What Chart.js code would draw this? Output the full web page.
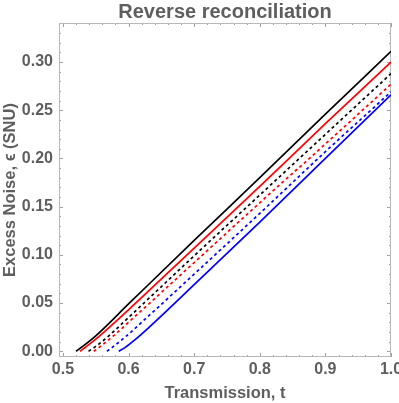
<!DOCTYPE html>
<html>
<head>
<meta charset="utf-8">
<script src="https://cdn.jsdelivr.net/npm/chart.js@4.4.1/dist/chart.umd.min.js"></script>
<style>
    html, body { margin: 0; padding: 0; background: #fff; }
    #wrap { width: 399px; height: 403px; }
</style>
</head>
<body>
<div id="wrap"><canvas id="chart" width="399" height="403"></canvas></div>
<script>
// Labels
var chartTitle = 'Reverse reconciliation';
var xTitle = 'Transmission, t';
var yTitle = 'Excess Noise, \u03f5 (SNU)';

// Tick labels
var xTicks = [0.5, 0.6, 0.7, 0.8, 0.9, 1.0];
var yTicks = [0.00, 0.05, 0.10, 0.15, 0.20, 0.25, 0.30];

// Series values (transmission t, excess noise)
var blackSolidT = [0.520, 0.530, 0.550, 0.600, 0.700, 0.800, 0.900, 1.000];
var blackSolidE = [0.000, 0.005, 0.016, 0.049, 0.115, 0.180, 0.246, 0.311];

var redSolidT = [0.526, 0.536, 0.556, 0.600, 0.700, 0.800, 0.900, 1.000];
var redSolidE = [0.000, 0.005, 0.016, 0.043, 0.107, 0.171, 0.236, 0.300];

var blackDotT = [0.539, 0.550, 0.570, 0.600, 0.700, 0.800, 0.900, 1.000];
var blackDotE = [0.000, 0.005, 0.016, 0.035, 0.099, 0.162, 0.225, 0.288];

var redDotT = [0.547, 0.557, 0.577, 0.600, 0.700, 0.800, 0.900, 1.000];
var redDotE = [0.000, 0.005, 0.016, 0.030, 0.092, 0.154, 0.215, 0.277];

var blueDotT = [0.567, 0.577, 0.597, 0.620, 0.700, 0.800, 0.900, 1.000];
var blueDotE = [0.000, 0.005, 0.016, 0.030, 0.080, 0.143, 0.207, 0.269];

var blueSolidT = [0.585, 0.595, 0.610, 0.630, 0.700, 0.800, 0.900, 1.000];
var blueSolidE = [0.000, 0.004, 0.012, 0.024, 0.069, 0.134, 0.200, 0.266];

var grey = '#5e5e5e';
var fontFamily = '"Liberation Sans", Arial, sans-serif';

function points(ts, es) {
    return ts.map(function(t, i) {
        return { x: t, y: es[i] };
    });
}

function series(ts, es, color, dashed) {
    return {
        data: points(ts, es),
        borderColor: color,
        borderWidth: 1.7,
        borderDash: dashed ? [3, 3] : [],
        pointRadius: 0,
        fill: false,
        cubicInterpolationMode: 'monotone'
    };
}

// Frame with inward ticks on all four sides, title centred over the plot
var frameTicks = {
    id: 'frameTicks',
    beforeDatasetsDraw: function(chart) {
        var ctx = chart.ctx;
        var a = chart.chartArea;
        var xs = chart.scales.x;
        var ys = chart.scales.y;
        ctx.save();
        ctx.strokeStyle = '#a0a0a0';
        ctx.lineWidth = 1;
        ctx.beginPath();
        var i, v, p, len;
        for (i = 0; i <= 25; i++) {
            v = 0.5 + i * 0.02;
            p = Math.round(xs.getPixelForValue(v)) + 0.5;
            len = (i % 5 === 0) ? 4 : 2;
            ctx.moveTo(p, a.bottom);
            ctx.lineTo(p, a.bottom - len);
            ctx.moveTo(p, a.top);
            ctx.lineTo(p, a.top + len);
        }
        for (i = 0; i <= 34; i++) {
            v = i * 0.01;
            p = Math.round(ys.getPixelForValue(v)) + 0.5;
            len = (i % 5 === 0) ? 4 : 2;
            ctx.moveTo(a.left, p);
            ctx.lineTo(a.left + len, p);
            ctx.moveTo(a.right, p);
            ctx.lineTo(a.right - len, p);
        }
        ctx.stroke();
        ctx.strokeStyle = '#b8b8b8';
        ctx.strokeRect(Math.round(a.left) + 0.5, Math.round(a.top) + 0.5,
            Math.round(a.right - a.left) - 1, Math.round(a.bottom - a.top) - 1);

        ctx.fillStyle = grey;
        ctx.font = 'bold 20px ' + fontFamily;
        ctx.textAlign = 'center';
        ctx.textBaseline = 'middle';
        ctx.fillText(chartTitle, (a.left + a.right) / 2, 12);
        ctx.restore();
    }
};

new Chart(document.getElementById('chart'), {
    type: 'line',
    data: {
        datasets: [
            series(blackSolidT, blackSolidE, '#000000', false),
            series(redSolidT, redSolidE, '#ff0000', false),
            series(blackDotT, blackDotE, '#000000', true),
            series(redDotT, redDotE, '#ff0000', true),
            series(blueDotT, blueDotE, '#0000ff', true),
            series(blueSolidT, blueSolidE, '#0000ff', false)
        ]
    },
    options: {
        responsive: false,
        animation: false,
        layout: { padding: { top: 23, right: 8, bottom: 0, left: 0 } },
        plugins: {
            legend: { display: false },
            tooltip: { enabled: false },
            title: { display: false }
        },
        scales: {
            x: {
                type: 'linear',
                min: 0.494,
                max: 1.0,
                grid: { display: false, drawTicks: false },
                border: { display: false },
                ticks: {
                    color: grey,
                    padding: 3,
                    maxRotation: 0,
                    font: { family: fontFamily, size: 16, weight: 'bold' },
                    callback: function(v) { return v.toFixed(1); }
                },
                title: {
                    display: true,
                    text: xTitle,
                    color: grey,
                    padding: { top: 0, bottom: 0 },
                    font: { family: fontFamily, size: 16.5, weight: 'bold' }
                },
                afterBuildTicks: function(s) {
                    s.ticks = xTicks.map(function(v) { return { value: v }; });
                },
                afterFit: function(s) {
                    s.height = 46;
                    s.paddingLeft = 0;
                    s.paddingRight = 0;
                }
            },
            y: {
                type: 'linear',
                min: -0.006,
                max: 0.3405,
                grid: { display: false, drawTicks: false },
                border: { display: false },
                ticks: {
                    color: grey,
                    padding: 6,
                    font: { family: fontFamily, size: 16, weight: 'bold' },
                    callback: function(v) { return v.toFixed(2); }
                },
                title: {
                    display: true,
                    text: yTitle,
                    color: grey,
                    padding: { top: 1, bottom: 0 },
                    font: { family: fontFamily, size: 16.5, weight: 'bold' }
                },
                afterBuildTicks: function(s) {
                    s.ticks = yTicks.map(function(v) { return { value: v }; });
                },
                afterFit: function(s) {
                    s.width = 59;
                    s.paddingTop = 0;
                    s.paddingBottom = 0;
                }
            }
        }
    },
    plugins: [frameTicks]
});
</script>
</body>
</html>
